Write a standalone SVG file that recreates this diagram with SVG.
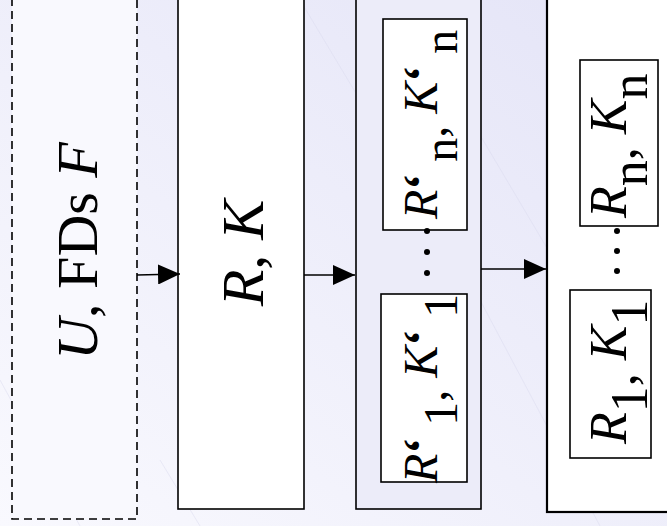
<svg xmlns="http://www.w3.org/2000/svg" width="667" height="526" viewBox="0 0 667 526">
<defs>
<linearGradient id="bg" x1="0" y1="1" x2="1" y2="0">
<stop offset="0" stop-color="#f9f9fe"/>
<stop offset="1" stop-color="#e4e4f7"/>
</linearGradient>
<marker id="ah" viewBox="0 0 22 20" refX="22" refY="10" markerWidth="22" markerHeight="20" markerUnits="userSpaceOnUse" orient="auto">
<path d="M0,0 L22,10 L0,20 Z" fill="#000"/>
</marker>
<style>
.box{stroke:#000;stroke-width:1.6}
.t{font-family:"Liberation Serif","Times New Roman",serif;fill:#000}
.i{font-style:italic}
.q{font-weight:bold}
.conn{stroke:#000;stroke-width:1.5;fill:none;marker-end:url(#ah)}
.tex{stroke:#dcdcf0;stroke-width:1;opacity:0.5}
</style>
</defs>
<rect x="0" y="0" width="667" height="526" fill="url(#bg)"/>
<g id="texture">
<line class="tex" x1="0" y1="380" x2="80" y2="526"/>
<line class="tex" x1="300" y1="0" x2="420" y2="200"/>
<line class="tex" x1="400" y1="0" x2="560" y2="270"/>
<line class="tex" x1="480" y1="300" x2="600" y2="526"/>
<line class="tex" x1="160" y1="460" x2="200" y2="526"/>
</g>
<g id="n1">
<rect class="box" x="12" y="-5" width="125" height="524" fill="#f9f9fe" stroke-dasharray="8,5" stroke-width="1.8"/>
<text class="t" font-size="58" text-anchor="middle" transform="translate(97,251) rotate(-90)"><tspan class="i">U</tspan>, FDs <tspan class="i">F</tspan></text>
</g>
<g id="n2">
<rect class="box" x="178" y="-5" width="126" height="514" fill="#fff"/>
<text class="t" font-size="60" text-anchor="middle" transform="translate(263,253) rotate(-90)"><tspan class="i">R</tspan>, <tspan class="i">K</tspan></text>
</g>
<g id="n3">
<rect class="box" x="356" y="-5" width="125" height="514" fill="#ececf9"/>
<rect class="box" x="383" y="19" width="84" height="211" fill="#fff"/>
<rect class="box" x="381" y="294" width="86" height="188" fill="#fff"/>
<text class="t" font-size="48" transform="translate(437,219) rotate(-90)"><tspan class="i">R</tspan><tspan class="q">‘</tspan> <tspan dy="20">n</tspan><tspan dy="-11">,</tspan><tspan dy="-9"> </tspan><tspan class="i">K</tspan><tspan class="q">‘</tspan> <tspan dy="20">n</tspan></text>
<text class="t" font-size="48" transform="translate(437,483) rotate(-90)"><tspan class="i">R</tspan><tspan class="q">‘</tspan> <tspan dy="20">1</tspan><tspan dy="-11">,</tspan><tspan dy="-9"> </tspan><tspan class="i">K</tspan><tspan class="q">‘</tspan> <tspan dy="20">1</tspan></text>
<circle cx="427" cy="231" r="3"/>
<circle cx="427" cy="252" r="3"/>
<circle cx="427" cy="273" r="3"/>
</g>
<g id="n4">
<rect x="547" y="-5" width="130" height="517" fill="#fff" stroke="#000" stroke-width="2.2"/>
<rect class="box" x="580" y="60" width="78" height="166" fill="#fff"/>
<rect class="box" x="570" y="290" width="81" height="168" fill="#fff"/>
<text class="t" font-size="52" transform="translate(626,218) rotate(-90)"><tspan class="i">R</tspan><tspan dy="21">n</tspan><tspan dy="-12">,</tspan><tspan dy="-9"> </tspan><tspan class="i">K</tspan><tspan dy="21">n</tspan></text>
<text class="t" font-size="52" transform="translate(626,444) rotate(-90)"><tspan class="i">R</tspan><tspan dy="21">1</tspan><tspan dy="-12">,</tspan><tspan dy="-9"> </tspan><tspan class="i">K</tspan><tspan dy="21">1</tspan></text>
<circle cx="617" cy="231" r="3"/>
<circle cx="617" cy="251" r="3"/>
<circle cx="617" cy="271" r="3"/>
</g>
<g id="connectors">
<path class="conn" d="M137,275 L180,274"/>
<path class="conn" d="M304,275 L355,275"/>
<path class="conn" d="M481,269 L546,269"/>
</g>
</svg>
